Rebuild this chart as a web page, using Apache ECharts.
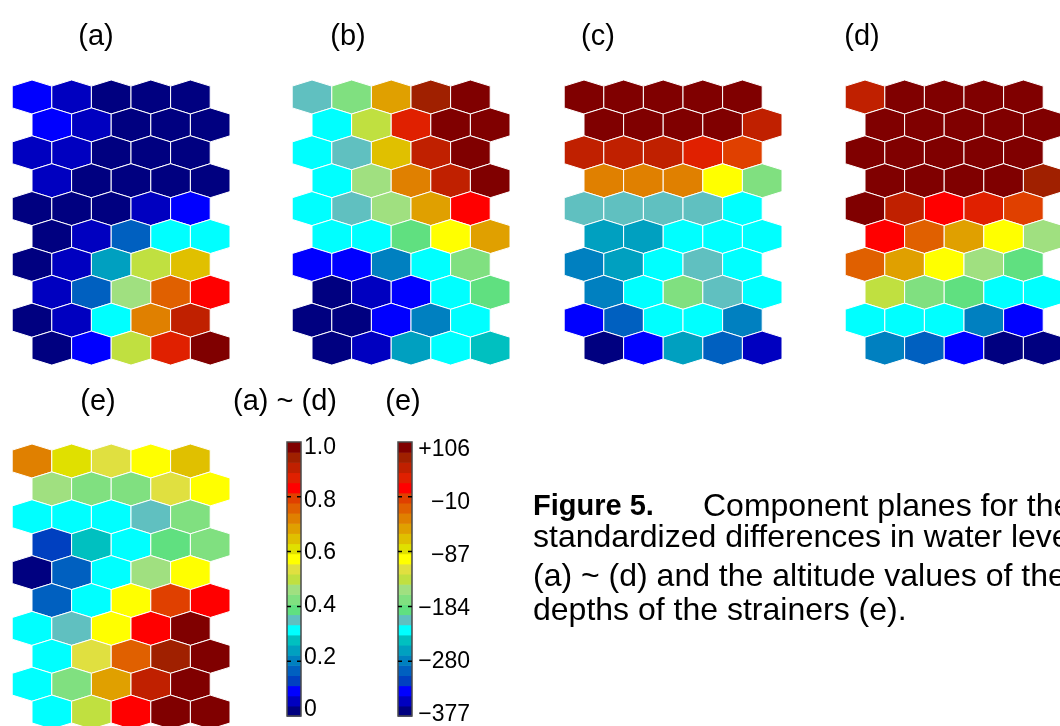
<!DOCTYPE html>
<html>
<head>
<meta charset="utf-8">
<script src="https://cdn.jsdelivr.net/npm/echarts@6/dist/echarts.min.js"></script>
<style>
html,body{margin:0;padding:0;background:#fff;}
#chart{width:1060px;height:726px;}
</style>
</head>
<body>
<div id="chart"></div>
<script>
// ---------------- DATA ----------------
// component plane values (normalized 0..1), 10 rows x 5 columns, top row first
const panelA = [
  [0.09,0.06,0.02,0.02,0.02],
  [0.09,0.06,0.02,0.02,0.02],
  [0.06,0.06,0.02,0.02,0.02],
  [0.06,0.02,0.02,0.02,0.02],
  [0.02,0.02,0.02,0.06,0.09],
  [0.02,0.06,0.17,0.31,0.31],
  [0.02,0.06,0.24,0.50,0.65],
  [0.06,0.17,0.46,0.76,0.83],
  [0.02,0.06,0.31,0.72,0.91],
  [0.02,0.09,0.50,0.87,0.98]
];
const panelB = [
  [0.35,0.43,0.69,0.94,0.98],
  [0.31,0.50,0.87,0.98,0.98],
  [0.31,0.35,0.65,0.91,0.98],
  [0.31,0.46,0.72,0.91,0.98],
  [0.31,0.35,0.46,0.69,0.83],
  [0.31,0.31,0.39,0.57,0.69],
  [0.09,0.09,0.20,0.31,0.43],
  [0.02,0.06,0.09,0.31,0.39],
  [0.02,0.02,0.09,0.20,0.31],
  [0.02,0.06,0.24,0.31,0.28]
];
const panelC = [
  [0.98,0.98,0.98,0.98,0.98],
  [0.98,0.98,0.98,0.98,0.91],
  [0.91,0.91,0.91,0.87,0.80],
  [0.72,0.72,0.72,0.57,0.43],
  [0.35,0.35,0.35,0.35,0.31],
  [0.24,0.24,0.31,0.31,0.31],
  [0.20,0.24,0.31,0.35,0.31],
  [0.20,0.31,0.43,0.35,0.31],
  [0.09,0.17,0.31,0.31,0.20],
  [0.02,0.09,0.24,0.17,0.06]
];
const panelD = [
  [0.91,0.98,0.98,0.98,0.98],
  [0.98,0.98,0.98,0.98,0.98],
  [0.98,0.98,0.98,0.98,0.98],
  [0.98,0.98,0.98,0.98,0.94],
  [0.98,0.91,0.83,0.87,0.80],
  [0.83,0.76,0.69,0.57,0.46],
  [0.76,0.69,0.57,0.46,0.39],
  [0.50,0.43,0.39,0.31,0.31],
  [0.31,0.31,0.31,0.20,0.09],
  [0.20,0.17,0.09,0.02,0.02]
];
const panelE = [
  [0.72,0.61,0.54,0.57,0.65],
  [0.46,0.43,0.43,0.54,0.57],
  [0.31,0.31,0.31,0.35,0.43],
  [0.13,0.28,0.31,0.39,0.43],
  [0.02,0.17,0.31,0.46,0.57],
  [0.17,0.31,0.57,0.80,0.83],
  [0.31,0.35,0.57,0.83,0.98],
  [0.31,0.54,0.76,0.94,0.98],
  [0.31,0.43,0.69,0.91,0.98],
  [0.31,0.50,0.83,0.98,0.98]
];
const panelNames = ['(a)','(b)','(c)','(d)','(e)'];
const tickValues = [0,0.2,0.4,0.6,0.8,1.0];
const ticksAD = ['0','0.2','0.4','0.6','0.8','1.0'];
const ticksE = ['\u2212377','\u2212280','\u2212184','\u221287','\u221210','+106'];
const colorbarTitles = ['(a) ~ (d)','(e)'];
const captionBold = 'Figure 5.';
const captionLines = [
  'Component planes for the',
  'standardized differences in water levels',
  '(a) ~ (d) and the altitude values of the',
  'depths of the strainers (e).'
];

// ---------------- STYLE / LAYOUT ----------------
const palette = ['#000080','#0000c0','#0000ff','#0040c0','#0060c0','#0080c0','#00a0c0','#00c0c0','#00ffff',
  '#60c0c0','#60e080','#80e080','#a0e080','#c0e040','#e0e040','#ffff00','#e0e000','#e0c000','#e0a000',
  '#e08000','#e06000','#e04000','#ff0000','#e02000','#c02000','#a02000','#800000'];
const FONT = '"Liberation Sans", Arial, sans-serif';
const panels = [panelA, panelB, panelC, panelD, panelE];
const panelCenters = [[32,97],[312,97],[584,97],[865,97],[32,461]];
const colStep = 39.6, rowStep = 27.9;

const chart = echarts.init(document.getElementById('chart'));

const grids = [], xAxes = [], yAxes = [], series = [];

function hexRender(params, api){
  const p = api.coord([api.value(0), api.value(1)]);
  const sz = api.size([1,1]);
  const hw = sz[0]/2, h = sz[1]*0.61, s = sz[1]*0.39;
  return {
    type:'polygon',
    shape:{points:[[p[0],p[1]-h],[p[0]+hw,p[1]-s],[p[0]+hw,p[1]+s],[p[0],p[1]+h],[p[0]-hw,p[1]+s],[p[0]-hw,p[1]-s]]},
    style:{fill: api.visual('color'), stroke:'#ffffff', lineWidth:1}
  };
}

panels.forEach((pd, i) => {
  const c = panelCenters[i];
  grids.push({left: c[0]-0.5*colStep, top: c[1]-0.5*rowStep, width: 5*colStep, height: 9.5*rowStep});
  xAxes.push({gridIndex:i, type:'value', min:-0.5, max:4.5, show:false});
  yAxes.push({gridIndex:i, type:'value', min:-0.5, max:9, inverse:true, show:false});
  const data = [];
  pd.forEach((row, r) => row.forEach((v, col) => data.push([col + (r%2)*0.5, r, v])));
  series.push({type:'custom', xAxisIndex:i, yAxisIndex:i, renderItem:hexRender, data:data, clip:false, silent:true});
});

// colorbars
const bars = [
  {left:287, labels:ticksAD, labTop:448, labBottom:710, align:'left', margin:3},
  {left:398, labels:ticksE, labTop:450, labBottom:719, align:'right', margin:58}
];
const barTop = 442, barBottom = 716, barWidth = 14;
const barSegs = palette.map((col, k) => [k]);
bars.forEach((b) => {
  let gi = grids.length;
  grids.push({left:b.left, top:barTop, width:barWidth, height:barBottom-barTop});
  xAxes.push({gridIndex:gi, type:'value', min:0, max:1, show:false});
  yAxes.push({gridIndex:gi, type:'value', min:0, max:1, show:false});
  series.push({type:'custom', xAxisIndex:gi, yAxisIndex:gi, silent:true, data:barSegs,
    renderItem:function(params, api){
      const k = api.value(0), n = palette.length;
      const p0 = api.coord([0, k/n]), p1 = api.coord([1, (k+1)/n]);
      return {type:'rect', shape:{x:p0[0], y:p1[1], width:p1[0]-p0[0], height:p0[1]-p1[1]+0.6},
        style:{fill:palette[k]}};
    }});
  series.push({type:'custom', xAxisIndex:gi, yAxisIndex:gi, silent:true, z:5, data:[[0]],
    renderItem:function(params, api){
      const p0 = api.coord([0,0]), p1 = api.coord([1,1]);
      const children = [{type:'rect', shape:{x:p0[0], y:p1[1], width:p1[0]-p0[0], height:p0[1]-p1[1]},
        style:{fill:null, stroke:'#4a4a4a', lineWidth:1.5}}];
      tickValues.slice(1,-1).forEach(t => {
        const q = api.coord([0,t]);
        children.push({type:'line', shape:{x1:p0[0], y1:q[1], x2:p1[0], y2:q[1]},
          style:{stroke:'#000', lineWidth:1.5, lineDash:[4,6]}});
      });
      return {type:'group', children:children};
    }});
  gi = grids.length;
  grids.push({left:b.left, top:b.labTop, width:barWidth, height:b.labBottom-b.labTop});
  xAxes.push({gridIndex:gi, type:'value', min:0, max:1, show:false});
  yAxes.push({gridIndex:gi, type:'value', min:0, max:1, interval:0.2, position:'right',
    axisLine:{show:false}, axisTick:{show:false}, splitLine:{show:false},
    axisLabel:{show:true, showMinLabel:true, showMaxLabel:true, margin:b.margin, align:b.align,
      color:'#000', fontSize:23, fontFamily:FONT,
      formatter:function(v){ return b.labels[Math.round(v/0.2)]; }}});
});

const pieces = palette.map((col, k) => {
  const n = palette.length;
  return k === n-1 ? {gte:k/n, lte:1, color:col} : {gte:k/n, lt:(k+1)/n, color:col};
});

const graphics = [];
const titlePos = [[96,37],[348,37],[598,37],[862,37],[98,402]];
panelNames.forEach((t,i) => graphics.push({type:'text', x:titlePos[i][0], y:titlePos[i][1],
  style:{text:t, fill:'#000', fontSize:29, fontFamily:FONT, align:'center', verticalAlign:'middle'}}));
const cbTitlePos = [[285,402],[403,402]];
colorbarTitles.forEach((t,i) => graphics.push({type:'text', x:cbTitlePos[i][0], y:cbTitlePos[i][1],
  style:{text:t, fill:'#000', fontSize:29, fontFamily:FONT, align:'center', verticalAlign:'middle'}}));
graphics.push({type:'text', x:533, y:507, style:{text:captionBold, fill:'#000', fontSize:29, fontWeight:'bold',
  fontFamily:FONT, align:'left', verticalAlign:'middle'}});
const capPos = [[703,507],[533,538],[533,577],[533,611]];
captionLines.forEach((t,i) => graphics.push({type:'text', x:capPos[i][0], y:capPos[i][1],
  style:{text:t, fill:'#000', fontSize:32, fontFamily:FONT, align:'left', verticalAlign:'middle'}}));

chart.setOption({
  backgroundColor:'#ffffff',
  animation:false,
  grid:grids,
  xAxis:xAxes,
  yAxis:yAxes,
  visualMap:{type:'piecewise', show:false, dimension:2, seriesIndex:[0,1,2,3,4], pieces:pieces},
  series:series,
  graphic:graphics
});
</script>
</body>
</html>
